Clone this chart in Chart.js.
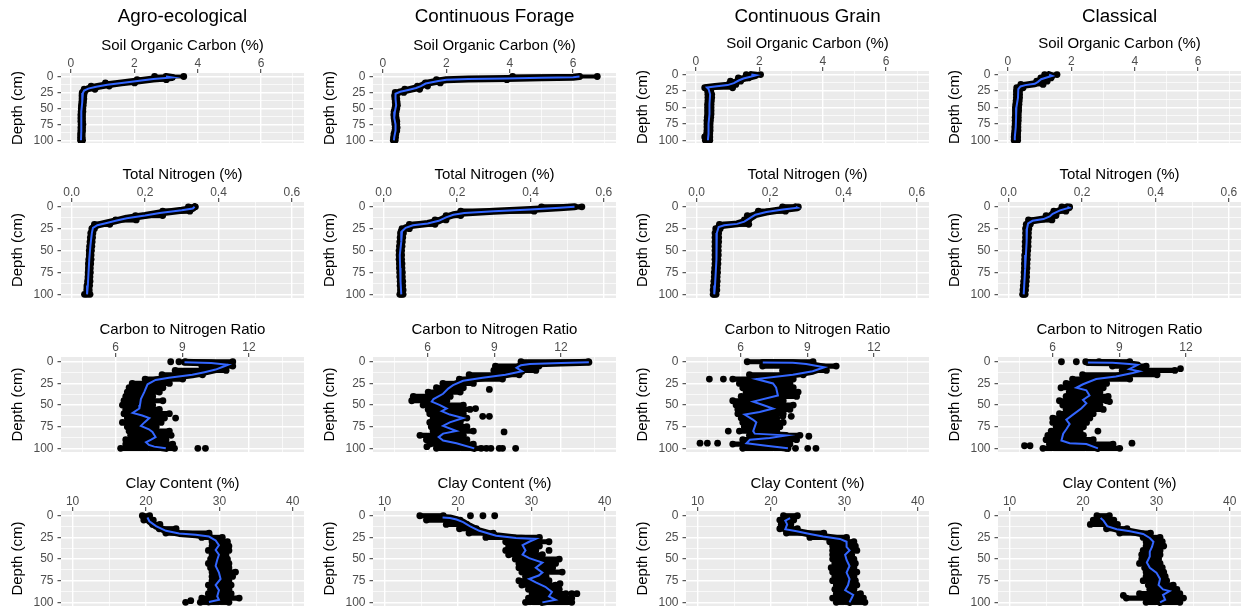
<!DOCTYPE html>
<html>
<head>
<meta charset="utf-8">
<script src="https://cdn.jsdelivr.net/npm/chart.js@4.4.0/dist/chart.umd.min.js"></script>
<style>
  body { margin: 0; background: #fff; width: 1245px; height: 616px; position: relative; overflow: hidden; }
  canvas { position: absolute; }
</style>
</head>
<body>
<script>
// facets
const systems = ["Agro-ecological", "Continuous Forage", "Continuous Grain", "Classical"];
const variables = ["Soil Organic Carbon (%)", "Total Nitrogen (%)", "Carbon to Nitrogen Ratio", "Clay Content (%)"];

// axis ticks
const depthTicks = [0, 25, 50, 75, 100];
const depthMinor = [12.5, 37.5, 62.5, 87.5];
const socTicks = [0, 2, 4, 6];
const socMinor = [1, 3, 5, 7];
const tnTicks = [0, 0.2, 0.4, 0.6];
const tnMinor = [0.1, 0.3, 0.5];
const cnTicks = [6, 9, 12];
const cnMinor = [4.5, 7.5, 10.5, 13.5];
const clayTicks = [10, 20, 30, 40];
const clayMinor = [15, 25, 35];

// depths at which the spread of the sampled points is read (cm)
const gridDepths = [0, 5, 10, 15, 20, 25, 30, 35, 40, 45, 50, 55, 60, 65, 70, 75, 80, 85, 90, 95, 100];

// smoothed profiles [depth, value], one per system
const socLine = [
  [[0,3.0],[1.5,3.2],[4,2.6],[7,2.1],[10,1.6],[13,1.15],[16,0.8],[19,0.55],[22,0.42],[26,0.38],[40,0.36],[55,0.33],[70,0.33],[85,0.33],[100,0.32]],
  [[0,6.2],[1,6.0],[2,5.0],[3,3.9],[4,2.7],[5,2.0],[7,1.75],[11,1.35],[15,1.2],[18,1.05],[21,0.8],[24,0.55],[27,0.4],[35,0.4],[45,0.42],[55,0.38],[65,0.36],[75,0.4],[85,0.4],[95,0.36],[100,0.35]],
  [[0,1.75],[1,1.9],[3,1.75],[6,1.5],[9,1.35],[13,1.2],[16,1.0],[18,0.6],[19.5,0.35],[22,0.4],[30,0.45],[45,0.43],[60,0.43],[75,0.4],[90,0.4],[100,0.38]],
  [[0,1.3],[2,1.4],[4,1.25],[7,1.05],[11,0.95],[14,0.85],[16,0.55],[18,0.4],[22,0.33],[35,0.32],[50,0.27],[65,0.26],[80,0.25],[95,0.22],[100,0.22]]
];
const tnLine = [
  [[0,0.335],[2,0.33],[4,0.3],[7,0.24],[10,0.2],[13,0.15],[16,0.12],[19,0.09],[21,0.07],[24,0.058],[30,0.055],[45,0.051],[60,0.048],[75,0.046],[90,0.044],[100,0.042]],
  [[0,0.52],[1,0.48],[3,0.4],[5,0.3],[7,0.22],[9,0.19],[12,0.17],[16,0.15],[19,0.12],[21,0.08],[24,0.06],[28,0.05],[40,0.048],[55,0.044],[70,0.045],[85,0.046],[100,0.048]],
  [[0,0.27],[1,0.275],[3,0.235],[6,0.19],[9,0.16],[13,0.145],[17,0.13],[19.5,0.11],[21,0.075],[23,0.06],[30,0.055],[45,0.054],[60,0.054],[75,0.052],[90,0.05],[100,0.048]],
  [[0,0.16],[1,0.165],[4,0.14],[8,0.12],[11,0.112],[14,0.095],[16,0.065],[19,0.053],[25,0.05],[40,0.049],[55,0.047],[70,0.045],[85,0.043],[100,0.041]]
];
const cnLine = [
  [[0.5,9.1],[1.5,10.3],[3.5,11.05],[6,10.8],[9,10.5],[12,10.0],[15,9.45],[18.5,8.4],[21,7.8],[26,7.44],[35,7.29],[43,7.14],[50,7.1],[54,7.07],[59,6.77],[62,7.2],[65,7.52],[70,7.3],[74,7.14],[78,7.5],[81,7.66],[87,7.8],[90,7.6],[93,7.37],[96,7.5],[98,7.74],[100,8.26]],
  [[0.5,13.25],[1.5,12.0],[2.5,10.6],[4,10.2],[7,10.0],[11,10.25],[15,9.5],[18.5,8.48],[22,7.6],[27,7.15],[31,6.93],[37,6.7],[43,6.27],[46,6.19],[50,6.56],[54,6.86],[57,6.64],[61,7.0],[65,7.6],[70,7.0],[74,6.7],[80,7.3],[83,6.7],[87,6.5],[91,6.7],[94,7.3],[100,8.1]],
  [[0.8,7.0],[1.2,8.35],[2.6,8.95],[6.3,9.77],[11,9.24],[15,8.35],[20,6.71],[25,7.46],[30,7.6],[39,7.68],[46,6.57],[50,7.01],[54,7.46],[58,6.86],[61,6.19],[67,6.57],[70,6.71],[80,6.57],[83,6.64],[85,8.05],[88,7.31],[90,6.42],[94,6.27],[97,7.16],[100,8.13]],
  [[0.8,7.59],[1.2,8.7],[2.6,9.45],[3.7,9.82],[8.5,9.45],[11,9.9],[13,9.6],[17,8.85],[20,7.96],[26,7.37],[30,7.07],[33,7.52],[39,7.66],[44,7.37],[48,7.52],[54,7.29],[61,6.92],[67,6.62],[72,6.77],[78,6.62],[83,6.48],[91,6.4],[94,6.77],[95,7.52],[100,8.04]]
];
const clayLine = [
  [[2,20.2],[6.3,20.46],[11.9,21.37],[17.4,22.72],[20.4,24.52],[21.9,26.78],[24,28.58],[28.5,29.49],[34,29.94],[39.6,29.49],[45,29.94],[50.7,29.71],[58,29.49],[65.6,29.94],[73,30.16],[80,29.49],[86,29.94],[93,29.71],[97,29.94],[99.5,28.58]],
  [[2,17.9],[2.5,18.9],[4.4,19.8],[7.4,20.7],[12,21.6],[17.4,22.9],[23,25.2],[25.6,27.9],[26.7,30.6],[30,29.7],[34,28.8],[40,29.2],[45,28.8],[49,29.7],[54,31.5],[60,30.6],[65.6,31.5],[69,31.0],[73,29.7],[77,30.6],[82,31.9],[88,32.8],[93,32.4],[97,33.3],[100,31.5]],
  [[2.6,22.6],[5.6,21.95],[10,22.2],[15.6,21.95],[18,23.5],[21,25.3],[24,27.1],[26.7,29.4],[30,30.3],[36,30.3],[40,30.7],[45,30.1],[51,30.3],[58,30.7],[65.6,30.3],[73,30.7],[80,30.5],[86,30.1],[91.5,31.2],[95,31.0],[100,30.7]],
  [[2.6,22.4],[5.6,22.8],[12,23.3],[15.6,24.6],[18,26.4],[21,28.2],[25.6,29.1],[30,29.6],[36,29.4],[41.5,29.1],[47,29.1],[54,28.7],[60,29.1],[65.6,30.0],[73,30.5],[80,30.3],[85,30.9],[87,31.8],[91.5,30.9],[97,31.2],[100,30.5]]
];

// lowest / highest sampled value at each gridDepth, one row per system
const socLo = [
  [2.64,2.09,1.09,0.64,0.42,0.37,0.36,0.36,0.35,0.34,0.33,0.33,0.32,0.32,0.32,0.33,0.32,0.32,0.31,0.31,0.31],
  [4.09,1.69,1.34,1.09,0.69,0.39,0.37,0.38,0.39,0.4,0.38,0.36,0.35,0.36,0.38,0.38,0.39,0.38,0.35,0.34,0.33],
  [1.59,1.34,1.09,1.04,0.28,0.37,0.38,0.38,0.38,0.37,0.37,0.37,0.37,0.36,0.35,0.35,0.35,0.35,0.34,0.28,0.3],
  [1.16,1.04,0.91,0.41,0.28,0.27,0.27,0.27,0.26,0.25,0.24,0.24,0.24,0.23,0.23,0.23,0.22,0.22,0.21,0.2,0.2]
];
const socHi = [
  [3.56,3.01,2.01,1.21,0.76,0.43,0.41,0.41,0.4,0.39,0.38,0.38,0.37,0.37,0.37,0.38,0.37,0.37,0.36,0.36,0.37],
  [6.76,3.91,1.81,1.41,1.16,0.66,0.43,0.44,0.45,0.46,0.44,0.42,0.41,0.42,0.44,0.44,0.45,0.44,0.41,0.4,0.39],
  [2.04,1.66,1.41,1.26,1.16,0.47,0.5,0.5,0.49,0.48,0.48,0.48,0.48,0.47,0.46,0.45,0.45,0.45,0.44,0.44,0.44],
  [1.55,1.36,1.24,1.11,0.48,0.37,0.37,0.37,0.36,0.35,0.34,0.34,0.33,0.33,0.33,0.32,0.32,0.32,0.31,0.31,0.31]
];
const tnLo = [
  [0.318,0.248,0.174,0.12,0.062,0.055,0.052,0.051,0.05,0.049,0.048,0.048,0.047,0.046,0.046,0.045,0.045,0.044,0.043,0.042,0.035],
  [0.43,0.21,0.17,0.14,0.07,0.05,0.046,0.045,0.044,0.043,0.042,0.042,0.042,0.043,0.043,0.044,0.044,0.045,0.045,0.046,0.044],
  [0.234,0.168,0.138,0.13,0.062,0.052,0.05,0.05,0.05,0.05,0.05,0.05,0.05,0.05,0.049,0.048,0.048,0.047,0.046,0.045,0.045],
  [0.145,0.123,0.102,0.054,0.048,0.046,0.046,0.046,0.045,0.045,0.045,0.044,0.044,0.043,0.043,0.042,0.042,0.041,0.04,0.039,0.038]
];
const tnHi = [
  [0.337,0.322,0.248,0.176,0.104,0.062,0.058,0.057,0.056,0.055,0.054,0.053,0.053,0.052,0.051,0.051,0.05,0.05,0.049,0.048,0.05],
  [0.54,0.41,0.21,0.17,0.14,0.07,0.054,0.052,0.051,0.05,0.049,0.049,0.049,0.05,0.05,0.051,0.051,0.052,0.052,0.053,0.053],
  [0.277,0.242,0.152,0.142,0.142,0.064,0.06,0.06,0.06,0.059,0.059,0.059,0.058,0.058,0.057,0.057,0.056,0.056,0.055,0.055,0.053],
  [0.166,0.156,0.129,0.118,0.059,0.055,0.054,0.054,0.053,0.053,0.052,0.051,0.051,0.05,0.05,0.049,0.049,0.048,0.047,0.046,0.045]
];
const cnLo = [
  [9.13,9.88,8.68,8.09,7.33,6.75,6.61,6.53,6.46,6.38,6.31,6.46,6.38,6.53,6.31,6.53,6.61,6.68,6.46,6.46,6.23],
  [10.2,9.05,8.98,7.87,7.43,6.69,6.4,6.03,5.36,5.29,5.8,6.03,6.1,6.25,6.1,6.17,6.25,5.66,5.95,6.1,6.4],
  [6.3,6.99,7.89,6.4,5.65,5.95,6.1,6.25,6.03,5.65,5.8,5.88,5.88,6.03,6.1,6.17,5.95,6.4,6.1,5.65,6.1],
  [8.09,8.69,9.13,7.35,6.9,6.61,6.38,6.75,6.61,6.31,6.46,6.61,6.31,6.01,6.01,6.16,5.94,5.79,5.71,5.86,5.57]
];
const cnHi = [
  [11.27,11.27,10.97,9.91,9.02,8.42,8.13,7.97,7.67,8.13,7.67,7.97,8.42,8.2,8.05,7.83,8.42,8.5,8.27,8.57,8.65],
  [13.23,11.01,10.87,10.12,9.37,8.06,7.61,7.47,7.02,6.87,7.61,7.91,7.61,7.77,7.47,7.77,8.06,7.61,7.77,8.06,8.65],
  [9.26,10.3,9.86,8.82,8.37,8.22,8.37,8.59,8.52,7.92,8.37,8.22,7.92,7.63,7.92,7.77,7.63,8.67,8.52,8.22,8.07],
  [9.47,10.21,11.5,10.7,9.47,8.43,8.28,8.13,8.5,8.43,8.13,8.28,7.83,7.68,7.53,7.39,7.24,7.39,7.83,8.72,9.02]
];
const clayLo = [
  [19.5,19.7,20.9,21.8,22.7,27.6,29.0,29.0,28.5,29.0,28.8,28.5,28.8,29.0,29.0,29.0,28.5,28.8,28.5,27.6,27.4],
  [14.8,15.7,18.4,20.2,21.5,23.8,26.5,26.9,26.5,26.9,27.8,28.3,28.3,28.7,29.2,28.3,28.7,29.6,30.1,29.6,29.2],
  [21.7,21.2,21.4,21.2,22.1,25.3,28.0,28.4,28.4,28.4,28.4,28.7,28.2,28.4,28.7,28.4,28.9,28.7,28.9,28.4,28.9],
  [21.9,21.4,21.0,23.2,25.0,28.2,28.6,28.6,28.2,28.0,28.0,27.7,28.4,28.6,28.6,28.2,28.9,29.1,27.7,25.9,28.6]
];
const clayHi = [
  [20.5,21.0,21.9,24.1,28.6,30.4,31.1,31.3,31.3,30.9,31.1,31.3,31.3,32.2,31.8,31.3,31.6,31.3,31.6,32.7,31.3],
  [18.0,20.3,21.2,22.5,24.8,31.1,32.4,31.1,30.6,31.5,33.8,33.3,32.9,34.2,32.0,32.4,33.3,33.8,34.7,35.5,35.5],
  [23.6,23.1,22.7,23.6,27.2,30.3,31.3,31.5,31.7,31.0,31.3,31.5,31.3,31.7,31.3,31.5,31.7,31.3,32.2,32.6,32.8],
  [23.6,24.2,24.7,26.0,29.2,30.5,30.8,31.0,30.5,30.5,30.3,30.5,30.8,31.0,31.2,31.4,32.3,32.8,33.2,33.7,33.2]
];

// isolated points [depth, value]
const socOut = [[], [], [], []];
const tnOut = [[], [], [], []];
const cnOut = [
  [[0,8.48],[0,8.85],[65,8.7],[100,9.7],[100,10.04]],
  [[32,8.78],[63,8.48],[63,8.78],[54,8.16],[81,9.44],[100,8.41],[100,8.85],[100,9.22],[100,9.37],[100,9.96],[98,5.97]],
  [[20,4.6],[20,5.23],[80,5.45],[94,4.18],[94,4.51],[94,4.97],[63,7.9],[63,8.28],[86,9.07],[100,8.47],[100,9.02],[100,9.39]],
  [[0,6.4],[0,7.07],[0,7.49],[8,11.75],[46,8.56],[80,8.04],[94,9.57],[97,4.74],[97,4.99]]
];
const clayOut = [
  [[100,25.4],[98,26.1]],
  [[0,21.7],[0,23.4],[0,25.0],[40,32.4],[78.5,33.9],[90,35.5],[90,36.2]],
  [],
  [[92,25.5]]
];

// layout of the facet grid (pixels)
const plotLeft = [61, 373, 686, 998];
const plotWidth = 245;
const plotTop = [[73, 73, 71, 71], [202, 202, 202, 202], [357, 357, 357, 357], [511, 511, 511, 511]];
const plotBottom = [147, 302, 456, 610];
const yAxisW = 61;
const xAxisH = 40;

const rows = [
  { line: socLine, lo: socLo, hi: socHi, out: socOut, ticks: socTicks, minor: socMinor, min: -0.31, max: 7.35, fmt: v => String(v) },
  { line: tnLine, lo: tnLo, hi: tnHi, out: tnOut, ticks: tnTicks, minor: tnMinor, min: -0.029, max: 0.633, fmt: v => v.toFixed(1) },
  { line: cnLine, lo: cnLo, hi: cnHi, out: cnOut, ticks: cnTicks, minor: cnMinor, min: 3.55, max: 14.47, fmt: v => String(v) },
  { line: clayLine, lo: clayLo, hi: clayHi, out: clayOut, ticks: clayTicks, minor: clayMinor, min: 8.42, max: 41.53, fmt: v => String(v) }
];

Chart.defaults.font.family = "'Liberation Sans', Arial, sans-serif";

const panelBg = {
  id: 'panelBg',
  beforeDraw(chart) {
    const a = chart.chartArea, ctx = chart.ctx;
    ctx.save();
    ctx.fillStyle = '#EBEBEB';
    ctx.fillRect(a.left, a.top, a.right - a.left, a.bottom - a.top);
    ctx.restore();
  }
};

function makePanel(r, c) {
  const v = rows[r];
  const top = r === 0 ? 0 : plotTop[r][c] - xAxisH;
  const h = plotBottom[r] - top;
  const w = yAxisW + plotWidth + 2;
  const cv = document.createElement('canvas');
  cv.width = w;
  cv.height = h;
  cv.style.left = (plotLeft[c] - yAxisW) + 'px';
  cv.style.top = top + 'px';
  cv.style.width = w + 'px';
  cv.style.height = h + 'px';
  document.body.appendChild(cv);

  const lo = v.lo[c], hi = v.hi[c];
  const profile = v.line[c].map(([d, x]) => ({ x, y: d }));
  const dots = gridDepths.flatMap((d, i) => [{ x: lo[i], y: d }, { x: hi[i], y: d }])
    .concat(v.out[c].map(([d, x]) => ({ x, y: d })));
  const spread = gridDepths.map((d, i) => ({ y: d, x: [lo[i], hi[i]] }));
  const xTicks = v.ticks.concat(v.minor).sort((a, b) => a - b);
  const yTicks = depthTicks.concat(depthMinor).sort((a, b) => a - b);

  new Chart(cv, {
    type: 'scatter',
    data: {
      datasets: [
        { type: 'line', indexAxis: 'y', data: profile, borderColor: '#3366FF', borderWidth: 2,
          pointRadius: 0, tension: 0, clip: 0, order: 0 },
        { type: 'line', indexAxis: 'y', data: profile, borderColor: '#000', borderWidth: 7,
          borderCapStyle: 'round', borderJoinStyle: 'round', pointRadius: 0, tension: 0, clip: 0, order: 1 },
        { type: 'scatter', data: dots, pointRadius: 3.4, pointBackgroundColor: '#000',
          pointBorderWidth: 0, backgroundColor: '#000', clip: 0, order: 2 },
        { type: 'bar', indexAxis: 'y', data: spread, backgroundColor: '#000', borderWidth: 0,
          barPercentage: 1.2, categoryPercentage: 1, grouped: false, clip: 0, order: 3 }
      ]
    },
    options: {
      responsive: false,
      animation: false,
      events: [],
      layout: { padding: { left: 0, right: 2, top: 0, bottom: 0 } },
      plugins: {
        legend: { display: false },
        tooltip: { enabled: false },
        title: {
          display: r === 0,
          text: systems[c],
          fullSize: false,
          color: '#000',
          font: { size: 18.8, weight: 'normal' },
          padding: { top: 6, bottom: plotTop[0][c] - xAxisH - 6 - 22.56 }
        }
      },
      scales: {
        x: {
          type: 'linear',
          position: 'top',
          min: v.min,
          max: v.max,
          afterBuildTicks: s => { s.ticks = xTicks.map(value => ({ value })); },
          afterFit: s => { s.height = xAxisH; s.paddingLeft = 0; s.paddingRight = 0; },
          ticks: {
            autoSkip: false, maxRotation: 0, padding: -2, color: '#4D4D4D', font: { size: 12 },
            callback: val => v.ticks.includes(val) ? v.fmt(val) : ''
          },
          grid: {
            color: '#fff',
            lineWidth: ctx => v.ticks.includes(ctx.tick.value) ? 1.4 : 0.7,
            tickLength: 4,
            tickWidth: 1,
            tickColor: ctx => v.ticks.includes(ctx.tick.value) ? '#333' : 'rgba(0,0,0,0)'
          },
          border: { display: false },
          title: { display: true, text: variables[r], color: '#000', font: { size: 15 }, padding: { top: 4, bottom: 0 } }
        },
        y: {
          type: 'linear',
          reverse: true,
          min: -5.5,
          max: 104.2,
          offset: false,
          afterBuildTicks: s => { s.ticks = yTicks.map(value => ({ value })); },
          afterFit: s => { s.width = yAxisW; s.paddingTop = 0; s.paddingBottom = 0; },
          ticks: {
            autoSkip: false, padding: 4, color: '#4D4D4D', font: { size: 12 },
            callback: val => depthTicks.includes(val) ? String(val) : ''
          },
          grid: {
            offset: false,
            color: '#fff',
            lineWidth: ctx => depthTicks.includes(ctx.tick.value) ? 1.4 : 0.7,
            tickLength: 3.5,
            tickWidth: 1,
            tickColor: ctx => depthTicks.includes(ctx.tick.value) ? '#333' : 'rgba(0,0,0,0)'
          },
          border: { display: false },
          title: { display: true, text: 'Depth (cm)', color: '#000', font: { size: 15 }, padding: { top: 9, bottom: 0 } }
        }
      }
    },
    plugins: [panelBg]
  });
}

for (let r = 0; r < 4; r++) {
  for (let c = 0; c < 4; c++) makePanel(r, c);
}
</script>
</body>
</html>
